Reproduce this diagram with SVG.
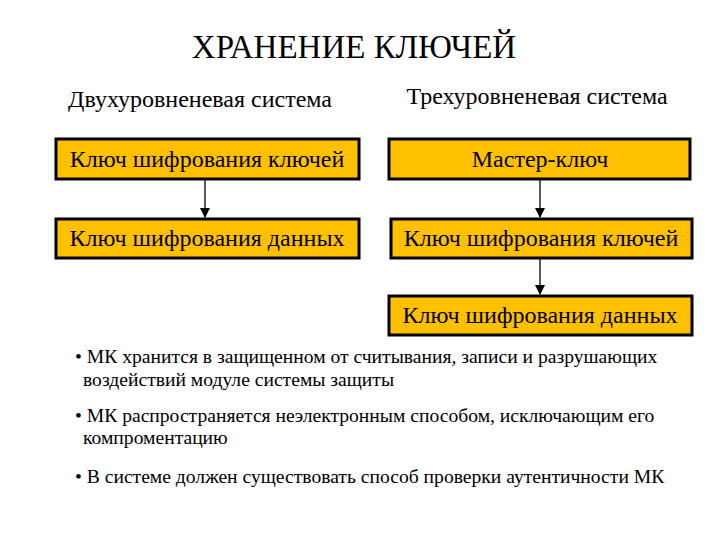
<svg xmlns="http://www.w3.org/2000/svg" width="720" height="540" viewBox="0 0 720 540" font-family="'Liberation Serif', 'DejaVu Serif', serif">
<defs>
<style>
text{font-family:"Liberation Serif","DejaVu Serif",serif;fill:#000}
.b{fill:#FFC000;stroke:#000;stroke-width:3}
.t{font-size:24px;text-anchor:middle}
.s{font-size:19.6px}
.c{stroke:#000;stroke-width:1.3;fill:none;marker-end:url(#a)}
</style>
<marker id="a" markerWidth="10" markerHeight="10" refX="9" refY="5" orient="auto" markerUnits="userSpaceOnUse"><path d="M0,0 L10,5 L0,10 z" fill="#000"/></marker>
</defs>
<rect width="720" height="540" fill="#fff"/>
<text x="354" y="58" style="font-size:33px" text-anchor="middle">ХРАНЕНИЕ КЛЮЧЕЙ</text>
<text x="200" y="107" class="t">Двухуровненевая система</text>
<text x="537" y="104" class="t">Трехуровненевая система</text>
<g id="n1"><rect class="b" x="56" y="139" width="303" height="40"/><text x="207" y="167" class="t">Ключ шифрования ключей</text></g>
<g id="n2"><rect class="b" x="56" y="219" width="303" height="39"/><text x="207" y="246" class="t">Ключ шифрования данных</text></g>
<g id="n3"><rect class="b" x="389" y="139" width="301" height="40"/><text x="540" y="167" class="t">Мастер-ключ</text></g>
<g id="n4"><rect class="b" x="391" y="219" width="301" height="39"/><text x="541" y="246" class="t">Ключ шифрования ключей</text></g>
<g id="n5"><rect class="b" x="389" y="296" width="303" height="39"/><text x="540" y="323" class="t">Ключ шифрования данных</text></g>
<g id="connectors">
<path class="c" d="M205,180 V217"/>
<path class="c" d="M540,180 V217"/>
<path class="c" d="M540,259 V294"/>
</g>
<text class="s" x="75" y="363">• МК хранится в защищенном от считывания, записи и разрушающих</text>
<text class="s" x="83" y="386">воздействий модуле системы защиты</text>
<text class="s" x="75" y="422">• МК распространяется неэлектронным способом, исключающим его</text>
<text class="s" x="83" y="444">компроментацию</text>
<text class="s" x="75" y="483">• В системе должен существовать способ проверки аутентичности МК</text>
</svg>
